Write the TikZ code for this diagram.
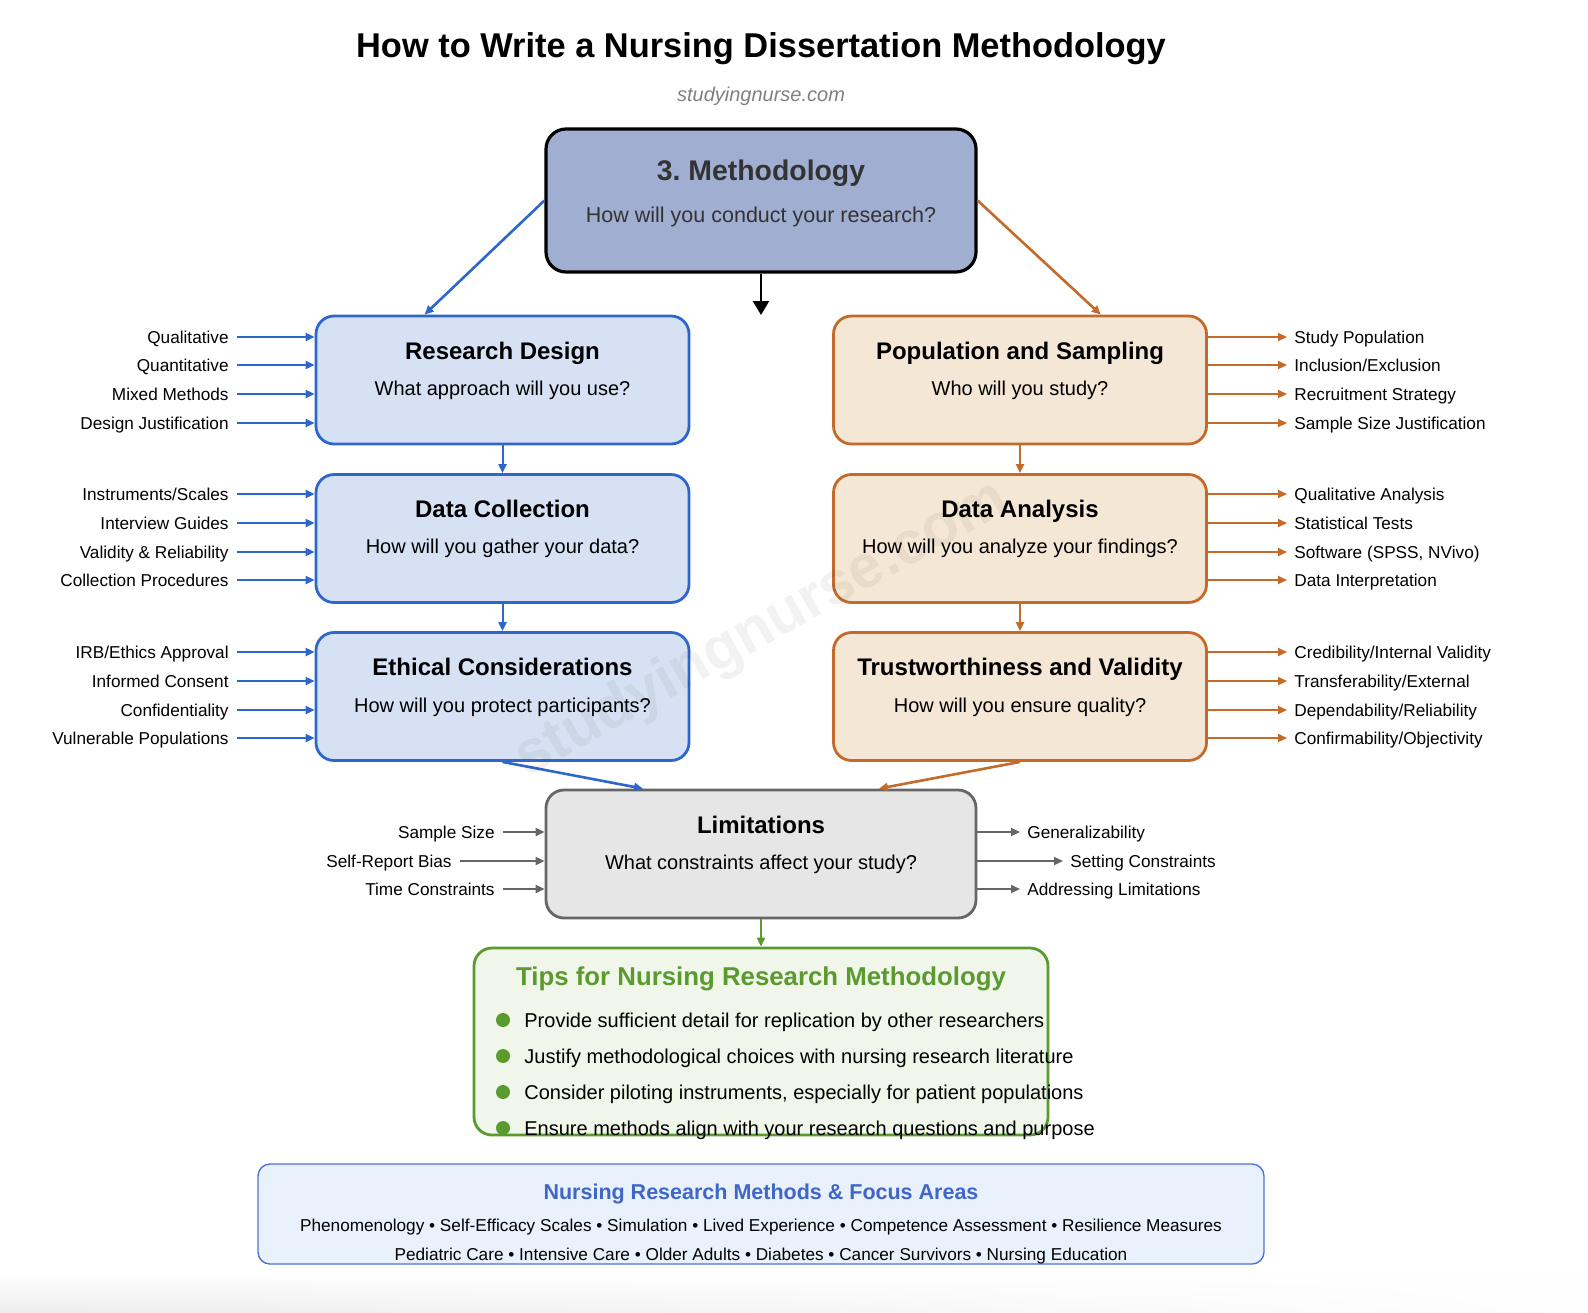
\documentclass[tikz,border=0pt]{standalone}
\usepackage{fontspec}
\setmainfont{Liberation Sans}
\usetikzlibrary{arrows.meta,fadings}
\definecolor{bluLine}{HTML}{2F66CC}
\definecolor{bluFill}{HTML}{D6E2F4}
\definecolor{orLine}{HTML}{C46A2B}
\definecolor{orFill}{HTML}{F5E7D5}
\definecolor{metFill}{HTML}{A0AED1}
\definecolor{limFill}{HTML}{E6E6E6}
\definecolor{limLine}{HTML}{666666}
\definecolor{tipLine}{HTML}{5A9A2F}
\definecolor{tipFill}{HTML}{F0F6E9}
\definecolor{fcLine}{HTML}{4D74D4}
\definecolor{fcFill}{HTML}{E8F1FC}
\definecolor{fcText}{HTML}{3F66C8}
\tikzset{
    BX/.style ={rectangle, rounded corners=9pt, line width=1.4pt, minimum width=186.5pt, minimum height=64pt, inner sep=0pt},
    BL/.style ={BX, draw=bluLine, fill=bluFill},
    OR/.style ={BX, draw=orLine, fill=orFill},
    TX/.style ={text depth=0pt},
    HD/.style ={TX, font=\fontsize{12}{14}\selectfont\bfseries},
    SB/.style ={TX, font=\fontsize{10}{12}\selectfont},
    LL/.style ={TX, anchor=east, inner sep=4pt, font=\fontsize{8.6}{10}\selectfont},
    RL/.style ={TX, anchor=west, inner sep=3.5pt, font=\fontsize{8.6}{10}\selectfont},
    AB/.style ={-{Triangle[length=4.5pt,width=4pt]}, line width=1pt, bluLine},
    AO/.style ={-{Triangle[length=4.5pt,width=4pt]}, line width=1pt, orLine},
    AG/.style ={-{Triangle[length=4.5pt,width=4pt]}, line width=1pt, limLine},
    THK/.style ={line width=1.3pt},
    TP/.style ={TX, anchor=west, inner sep=0pt, font=\fontsize{10}{12}\selectfont},
    DOT/.style ={circle, fill=tipLine, minimum size=7pt, inner sep=0pt},
    FT/.style ={TX, font=\fontsize{8.6}{10}\selectfont}}

\begin{document}
\begin{tikzpicture}[x=0.5pt,y=-0.5pt]
        \useasboundingbox[fill=white] (0,0) rectangle (1588,1312);
        \shade[top color=white, bottom color=black!7, path fading=east] (0,1272) rectangle (1588,1312);
        % title
        \node[TX, font=\fontsize{17.2}{20}\selectfont\bfseries] (title) at (761,45){How to Write a Nursing Dissertation Methodology};
        \node[TX, font=\fontsize{10}{12}\selectfont\itshape, text=black!50] (sub) at (761,94){studyingnurse.com};
        % main box
        \node[BX, draw=black, fill=metFill, line width=1.6pt, rounded corners=10pt, minimum width=215pt, minimum height=71.5pt] (M) at (761,200.5){};
        \node[TX, font=\fontsize{14.2}{16}\selectfont\bfseries, text=black!80] (Mh) at (761,170){3.\ Methodology};
        \node[TX, font=\fontsize{10.75}{13}\selectfont, text=black!80] (Ms) at (761,215){How will you conduct your research?};
        \coordinate (m1) at (761,315);
        \draw[-{Triangle[length=7pt,width=8pt]}, line width=1.2pt] (M.south) -- (m1);
        % left column
        \node[BL] (RD) at (502.5,380){};
        \node[HD] (RDh) at (502.5,351){Research Design};
        \node[SB] (RDs) at (502.5,388){What approach will you use?};
        \node[BL] (DC) at (502.5,538.5){};
        \node[HD] (DCh) at (502.5,509){Data Collection};
        \node[SB] (DCs) at (502.5,546){How will you gather your data?};
        \node[BL] (EC) at (502.5,696.5){};
        \node[HD] (ECh) at (502.5,667){Ethical Considerations};
        \node[SB] (ECs) at (502.5,705){How will you protect participants?};
        % right column
        \node[OR] (PS) at (1020,380){};
        \node[HD] (PSh) at (1020,351){Population and Sampling};
        \node[SB] (PSs) at (1020,388){Who will you study?};
        \node[OR] (DA) at (1020,538.5){};
        \node[HD] (DAh) at (1020,509){Data Analysis};
        \node[SB] (DAs) at (1020,546){How will you analyze your findings?};
        \node[OR] (TV) at (1020,696.5){};
        \node[HD] (TVh) at (1020,667){Trustworthiness and Validity};
        \node[SB] (TVs) at (1020,705){How will you ensure quality?};
        % links
        \draw[AB, THK] (M.west) -- (RD.140);
        \draw[AO, THK] (M.east) -- (PS.39);
        \draw[AB] (RD.south) -- (DC.north);
        \draw[AB] (DC.south) -- (EC.north);
        \draw[AO] (PS.south) -- (DA.north);
        \draw[AO] (DA.south) -- (TV.north);
        % left inputs
        \node[LL] (l1) at (237,337){Qualitative};
        \node[LL] (l2) at (237,365){Quantitative};
        \node[LL] (l3) at (237,394){Mixed Methods};
        \node[LL] (l4) at (237,423){Design Justification};
        \node[LL] (l5) at (237,494){Instruments/Scales};
        \node[LL] (l6) at (237,523){Interview Guides};
        \node[LL] (l7) at (237,552){Validity \& Reliability};
        \node[LL] (l8) at (237,580){Collection Procedures};
        \node[LL] (l9) at (237,652){IRB/Ethics Approval};
        \node[LL] (l10) at (237,681){Informed Consent};
        \node[LL] (l11) at (237,710){Confidentiality};
        \node[LL] (l12) at (237,738){Vulnerable Populations};
        \draw[AB] (l1.east) -- (l1.east -| RD.west);
        \draw[AB] (l2.east) -- (l2.east -| RD.west);
        \draw[AB] (l3.east) -- (l3.east -| RD.west);
        \draw[AB] (l4.east) -- (l4.east -| RD.west);
        \draw[AB] (l5.east) -- (l5.east -| DC.west);
        \draw[AB] (l6.east) -- (l6.east -| DC.west);
        \draw[AB] (l7.east) -- (l7.east -| DC.west);
        \draw[AB] (l8.east) -- (l8.east -| DC.west);
        \draw[AB] (l9.east) -- (l9.east -| EC.west);
        \draw[AB] (l10.east) -- (l10.east -| EC.west);
        \draw[AB] (l11.east) -- (l11.east -| EC.west);
        \draw[AB] (l12.east) -- (l12.east -| EC.west);
        % right outputs
        \node[RL] (r1) at (1287,337){Study Population};
        \node[RL] (r2) at (1287,365){Inclusion/Exclusion};
        \node[RL] (r3) at (1287,394){Recruitment Strategy};
        \node[RL] (r4) at (1287,423){Sample Size Justification};
        \node[RL] (r5) at (1287,494){Qualitative Analysis};
        \node[RL] (r6) at (1287,523){Statistical Tests};
        \node[RL] (r7) at (1287,552){Software (SPSS, NVivo)};
        \node[RL] (r8) at (1287,580){Data Interpretation};
        \node[RL] (r9) at (1287,652){Credibility/Internal Validity};
        \node[RL] (r10) at (1287,681){Transferability/External};
        \node[RL] (r11) at (1287,710){Dependability/Reliability};
        \node[RL] (r12) at (1287,738){Confirmability/Objectivity};
        \draw[AO] (r1.west -| PS.east) -- (r1.west);
        \draw[AO] (r2.west -| PS.east) -- (r2.west);
        \draw[AO] (r3.west -| PS.east) -- (r3.west);
        \draw[AO] (r4.west -| PS.east) -- (r4.west);
        \draw[AO] (r5.west -| DA.east) -- (r5.west);
        \draw[AO] (r6.west -| DA.east) -- (r6.west);
        \draw[AO] (r7.west -| DA.east) -- (r7.west);
        \draw[AO] (r8.west -| DA.east) -- (r8.west);
        \draw[AO] (r9.west -| TV.east) -- (r9.west);
        \draw[AO] (r10.west -| TV.east) -- (r10.west);
        \draw[AO] (r11.west -| TV.east) -- (r11.west);
        \draw[AO] (r12.west -| TV.east) -- (r12.west);
        % limitations
        \node[BX, draw=limLine, fill=limFill, minimum width=215pt] (L) at (761,854){};
        \node[HD] (Lh) at (761,825){Limitations};
        \node[SB] (Ls) at (761,862){What constraints affect your study?};
        \draw[AB, THK] (EC.south) -- (L.151);
        \draw[AO, THK] (TV.south) -- (L.29);
        \node[LL] (g1) at (503,832){Sample Size};
        \node[LL] (g2) at (460,861){Self-Report Bias};
        \node[LL] (g3) at (503,889){Time Constraints};
        \draw[AG] (g1.east) -- (g1.east -| L.west);
        \draw[AG] (g2.east) -- (g2.east -| L.west);
        \draw[AG] (g3.east) -- (g3.east -| L.west);
        \node[RL] (g4) at (1020,832){Generalizability};
        \node[RL] (g5) at (1063,861){Setting Constraints};
        \node[RL] (g6) at (1020,889){Addressing Limitations};
        \draw[AG] (g4.west -| L.east) -- (g4.west);
        \draw[AG] (g5.west -| L.east) -- (g5.west);
        \draw[AG] (g6.west -| L.east) -- (g6.west);
        % tips
        \node[BX, draw=tipLine, fill=tipFill, minimum width=287pt, minimum height=93.5pt] (T) at (761,1041.5){};
        \draw[-{Triangle[length=4.5pt,width=4pt]}, line width=1pt, tipLine] (L.south) -- (T.north);
        \node[TX, font=\fontsize{12.9}{15}\selectfont\bfseries, text=tipLine] (Th) at (761,976){Tips for Nursing Research Methodology};
        \node[DOT] (d1) at (503,1020){};
        \node[DOT] (d2) at (503,1056){};
        \node[DOT] (d3) at (503,1092){};
        \node[DOT] (d4) at (503,1128){};
        \node[TP] (t1) at (524,1020){Provide sufficient detail for replication by other researchers};
        \node[TP] (t2) at (524,1056){Justify methodological choices with nursing research literature};
        \node[TP] (t3) at (524,1092){Consider piloting instruments, especially for patient populations};
        \node[TP] (t4) at (524,1128){Ensure methods align with your research questions and purpose};
        % focus areas
        \node[rectangle, rounded corners=6pt, draw=fcLine, fill=fcFill, line width=0.7pt, minimum width=503pt, minimum height=50pt] (F) at (761,1214){};
        \node[TX, font=\fontsize{10.75}{13}\selectfont\bfseries, text=fcText] (Fh) at (761,1192){Nursing Research Methods \& Focus Areas};
        \node[FT] (f1) at (761,1225){Phenomenology • Self-Efficacy Scales • Simulation • Lived Experience • Competence Assessment • Resilience Measures};
        \node[FT] (f2) at (761,1254){Pediatric Care • Intensive Care • Older Adults • Diabetes • Cancer Survivors • Nursing Education};
        % watermark
        \node[rotate=29, font=\fontsize{30}{32}\selectfont\bfseries, text=black, opacity=0.05] (wm) at (762,630){studyingnurse.com};
    \end{tikzpicture}
\end{document}
